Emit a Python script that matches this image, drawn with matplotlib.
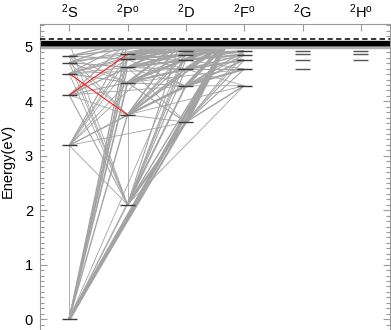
import matplotlib
matplotlib.use('Agg')
import matplotlib.pyplot as plt

plt.rcParams['font.family'] = ['Liberation Sans', 'DejaVu Sans']
plt.rcParams['mathtext.fontset'] = 'custom'
plt.rcParams['mathtext.rm'] = 'Liberation Sans'
plt.rcParams['mathtext.it'] = 'Liberation Sans'
plt.rcParams['font.size'] = 10.5

# term columns and level energies (eV)
terms = [r'$^{2}$S', r'$^{2}$P$^{\rm o}$', r'$^{2}$D', r'$^{2}$F$^{\rm o}$', r'$^{2}$G', r'$^{2}$H$^{\rm o}$']
lev_S = [0.0, 3.191, 4.116, 4.510, 4.713, 4.832]
lev_P = [2.104, 3.753, 4.345, 4.624, 4.775, 4.866]
lev_D = [3.617, 4.284, 4.592, 4.759, 4.860, 4.925]
lev_F = [4.288, 4.592, 4.759, 4.860, 4.925]
lev_G = [4.594, 4.761, 4.862, 4.927]
lev_H = [4.762, 4.862, 4.927]
e_band = 5.08          # crowded high levels
band_black = [5.03, 5.04, 5.05, 5.06, 5.07, 5.08, 5.09, 5.10]
band_gray = [4.985, 5.0, 5.015]
e_ion = 5.139

# transitions: (lower, upper, width)
trans = [
    ('S0', 'S1', 0.6), ('S0', 'P0', 0.6), ('S0', 'P1', 1.0), ('S0', 'P2', 1.2), ('S0', 'P3', 1.0),
    ('S0', 'P4', 0.8), ('S0', 'P5', 0.8), ('S0', 'Px', 1.0), ('S0', 'D0', 1.5), ('S0', 'D1', 0.6),
    ('S0', 'D5', 0.6), ('S0', 'Fx', 2.5),
    ('P0', 'P1', 0.6), ('P0', 'S1', 0.6), ('P0', 'S2', 0.8), ('P0', 'S3', 0.6), ('P0', 'S4', 0.6),
    ('P0', 'S5', 0.6), ('P0', 'Sx', 0.6), ('P0', 'D0', 1.6), ('P0', 'D1', 1.2), ('P0', 'D2', 0.8),
    ('P0', 'D3', 0.7), ('P0', 'D4', 0.6), ('P0', 'D5', 0.6), ('P0', 'Dx', 0.8), ('P0', 'F0', 0.6),
    ('P0', 'Fx', 1.0),
    ('S1', 'P1', 0.8), ('S1', 'P2', 0.6), ('S1', 'P3', 0.6), ('S1', 'P4', 0.6), ('S1', 'P5', 0.6),
    ('S1', 'Px', 0.8), ('S1', 'D0', 0.6), ('S1', 'D1', 0.6), ('S1', 'Dx', 0.6),
    ('S2', 'P1', 0.6), ('S2', 'P2', 0.8), ('S2', 'P3', 0.6), ('S2', 'P4', 0.6), ('S2', 'Px', 0.8),
    ('S2', 'D1', 0.6), ('S2', 'Dx', 0.8),
    ('S3', 'P2', 0.8), ('S3', 'P3', 0.6), ('S3', 'P4', 0.6), ('S3', 'P5', 0.6), ('S3', 'Px', 0.8),
    ('S3', 'D2', 0.6), ('S3', 'Dx', 0.8),
    ('S4', 'P1', 0.6), ('S4', 'P2', 0.6), ('S4', 'P3', 0.8), ('S4', 'P5', 0.6), ('S4', 'Px', 1.0),
    ('S4', 'Dx', 0.8),
    ('S5', 'P1', 0.6), ('S5', 'P2', 0.6), ('S5', 'P4', 0.8), ('S5', 'Px', 1.0), ('S5', 'Dx', 1.0),
    ('P1', 'D0', 0.6), ('P1', 'D1', 1.5), ('P1', 'D2', 1.0), ('P1', 'D3', 0.8), ('P1', 'D4', 0.8),
    ('P1', 'D5', 0.6), ('P1', 'Dx', 1.2), ('P1', 'F0', 0.6), ('P1', 'F2', 0.6), ('P1', 'Fx', 1.2),
    ('P2', 'D0', 0.8), ('P2', 'D1', 0.8), ('P2', 'D2', 1.5), ('P2', 'D3', 1.0), ('P2', 'D4', 0.8),
    ('P2', 'Dx', 1.5), ('P2', 'F1', 0.6), ('P2', 'Fx', 1.5),
    ('P3', 'D0', 0.6), ('P3', 'D1', 0.6), ('P3', 'D2', 0.8), ('P3', 'D3', 1.5), ('P3', 'D4', 1.0),
    ('P3', 'Dx', 1.5), ('P3', 'Fx', 1.5),
    ('P4', 'D1', 0.6), ('P4', 'D3', 0.8), ('P4', 'D4', 1.5), ('P4', 'Dx', 2.0), ('P4', 'Fx', 1.5),
    ('P5', 'D2', 0.6), ('P5', 'D5', 1.5), ('P5', 'Dx', 2.0), ('P5', 'Fx', 1.5),
    ('D0', 'F0', 1.0), ('D0', 'F1', 0.8), ('D0', 'F2', 0.8), ('D0', 'F3', 0.6), ('D0', 'F4', 0.6),
    ('D0', 'Fx', 3.0),
    ('D1', 'F0', 0.6), ('D1', 'F1', 1.5), ('D1', 'F2', 1.0), ('D1', 'F3', 0.8), ('D1', 'F4', 0.8),
    ('D1', 'Fx', 2.5),
    ('D2', 'F0', 0.6), ('D2', 'F1', 0.8), ('D2', 'F2', 1.5), ('D2', 'F3', 1.0), ('D2', 'Fx', 2.5),
    ('D3', 'F1', 0.6), ('D3', 'F3', 1.5), ('D3', 'F4', 1.0), ('D3', 'Fx', 2.5),
    ('D4', 'F2', 0.6), ('D4', 'F4', 1.5), ('D4', 'Fx', 2.0),
    ('D5', 'F3', 0.6), ('D5', 'Fx', 2.0),
]
red_trans = [('S2', 'P5'), ('S3', 'P1')]

# layout
col_x = {'S': 0.5, 'P': 1.5, 'D': 2.5, 'F': 3.5, 'G': 4.5, 'H': 5.5}
band_x = {'S': 0.5, 'P': 1.5, 'D': 2.4, 'F': 3.2}
half = 0.13
gray = '#a3a3a3'
frame = '#9a9a9a'

levels = {'S': lev_S, 'P': lev_P, 'D': lev_D, 'F': lev_F, 'G': lev_G, 'H': lev_H}


def pos(key):
    c = key[0]
    if key[1] == 'x':
        return band_x[c], e_band
    return col_x[c], levels[c][int(key[1:])]


fig = plt.figure(figsize=(3.91, 3.30), dpi=100)
ax = fig.add_axes([40 / 391, 0, 350 / 391, 306.5 / 330])

for a, b, w in trans:
    xa, ya = pos(a)
    xb, yb = pos(b)
    ax.plot([xa, xb], [ya, yb], color=gray, lw=w, solid_capstyle='butt', zorder=1)

for a, b in red_trans:
    xa, ya = pos(a)
    xb, yb = pos(b)
    ax.plot([xa, xb], [ya, yb], color='#ff1a1a', lw=0.8, zorder=2)

for e in band_gray:
    ax.axhline(e, color='#b0b0b0', lw=1.0, zorder=2)
for e in band_black:
    ax.axhline(e, color='black', lw=1.0, zorder=2)
ax.axhline(e_ion, color='black', lw=1.1, ls=(0, (3.5, 2.2)), zorder=3)

for c, lev in levels.items():
    mc = '#3a3a3a' if c in 'SPDF' else '#555555'
    ax.hlines(lev, col_x[c] - half, col_x[c] + half, color=mc, lw=1.0, zorder=4)

ax.set_xlim(0, 6)
ax.set_ylim(-0.2, 5.43)
ax.xaxis.set_ticks_position('top')
ax.set_xticks([col_x[c] for c in 'SPDFGH'])
ax.set_xticklabels(terms)
ax.set_yticks([0, 1, 2, 3, 4, 5])
ax.yaxis.set_minor_locator(matplotlib.ticker.MultipleLocator(0.1))
ax.tick_params(axis='y', which='both', direction='in', left=True, right=True,
               color=frame, labelcolor='black', pad=5)
ax.tick_params(axis='y', which='major', length=5, width=0.8)
ax.tick_params(axis='y', which='minor', length=2.8, width=0.8)
ax.tick_params(axis='x', which='major', direction='in', top=True, bottom=False,
               length=5, width=0.8, color=frame, labelcolor='black', pad=1.5)
for s in ['left', 'right', 'top']:
    ax.spines[s].set_color(frame)
    ax.spines[s].set_linewidth(0.8)
ax.spines['bottom'].set_visible(False)
ax.set_ylabel('Energy(eV)')
ax.yaxis.set_label_coords(-0.072, 0.55)

fig.savefig('out.png', dpi=100)
